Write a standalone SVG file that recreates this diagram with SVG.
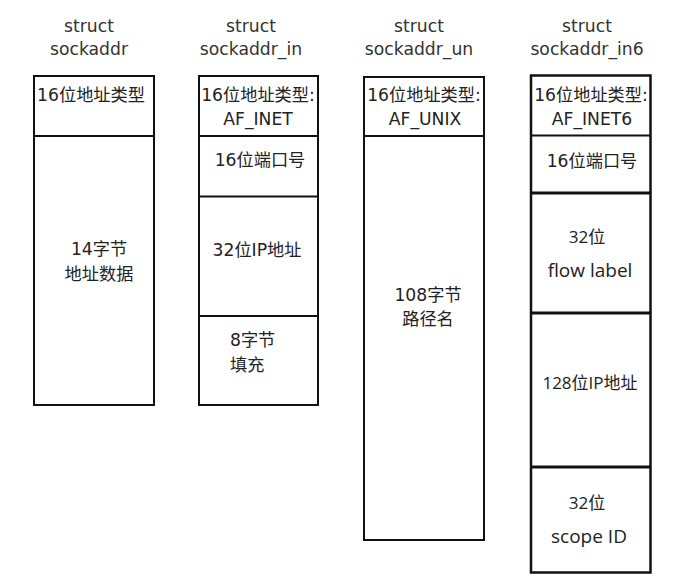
<svg xmlns="http://www.w3.org/2000/svg" width="676" height="581" viewBox="0 0 676 581">
<style>
.box{fill:#fff;stroke:#111;stroke-width:2}
.div{stroke:#111;stroke-width:2}
.div3{stroke:#111;stroke-width:3}
.t{font-family:"DejaVu Sans","Noto Sans CJK SC",sans-serif;font-size:17.2px;fill:#333}
.c{font-family:"DejaVu Sans","Noto Sans CJK SC",sans-serif;font-size:17.2px;fill:#222}
.o{font-family:"Open Sans","Noto Sans CJK SC",sans-serif;font-size:17px;fill:#222}
.o2{font-family:"Open Sans","Noto Sans CJK SC",sans-serif;font-size:19px;fill:#222}
.m{text-anchor:middle}
</style>
<rect width="676" height="581" fill="#fff"/>
<g id="sockaddr">
<text class="t m" x="89" y="32">struct</text>
<text class="t m" x="89" y="55">sockaddr</text>
<rect class="box" x="34" y="76" width="120" height="329"/>
<line class="div" x1="34" y1="136" x2="154" y2="136"/>
<text class="c m" x="91" y="101">16位地址类型</text>
<text class="c m" x="99" y="255">14字节</text>
<text class="c m" x="99" y="280">地址数据</text>
</g>
<g id="sockaddr_in">
<text class="t m" x="251" y="32">struct</text>
<text class="t m" x="251" y="55">sockaddr_in</text>
<rect class="box" x="199" y="76" width="119" height="329"/>
<line class="div" x1="199" y1="136" x2="318" y2="136"/>
<line class="div" x1="199" y1="196.5" x2="318" y2="196.5"/>
<line class="div" x1="199" y1="316" x2="318" y2="316"/>
<text class="c m" x="258" y="101">16位地址类型:</text>
<text class="c m" x="258" y="125">AF_INET</text>
<text class="c m" x="260" y="166">16位端口号</text>
<text class="c m" x="257" y="256">32位IP地址</text>
<text class="c" x="230" y="346">8字节</text>
<text class="c" x="230" y="371">填充</text>
</g>
<g id="sockaddr_un">
<text class="t m" x="419" y="32">struct</text>
<text class="t m" x="419" y="55">sockaddr_un</text>
<rect class="box" x="364" y="77" width="120" height="463"/>
<line class="div" x1="364" y1="136" x2="484" y2="136"/>
<text class="c m" x="424" y="101">16位地址类型:</text>
<text class="c m" x="425" y="125">AF_UNIX</text>
<text class="c m" x="428" y="301">108字节</text>
<text class="c m" x="428" y="325">路径名</text>
</g>
<g id="sockaddr_in6">
<text class="t m" x="587" y="32">struct</text>
<text class="t m" x="587" y="55">sockaddr_in6</text>
<rect class="box" x="531" y="75.5" width="119.5" height="497" style="stroke-width:2.5"/>
<line class="div" x1="531" y1="135.5" x2="650.5" y2="135.5"/>
<line class="div3" x1="531" y1="193" x2="650.5" y2="193"/>
<line class="div3" x1="531" y1="313" x2="650.5" y2="313"/>
<line class="div3" x1="531" y1="467" x2="650.5" y2="467"/>
<text class="c m" x="591" y="101">16位地址类型:</text>
<text class="c m" x="592" y="125">AF_INET6</text>
<text class="c m" x="592" y="166.5">16位端口号</text>
<text class="o m" x="587" y="243">32位</text>
<text class="o2 m" x="590" y="277">flow label</text>
<text class="o m" x="590" y="389">128位IP地址</text>
<text class="o m" x="587" y="509">32位</text>
<text class="o2 m" x="589" y="543">scope ID</text>
</g>
<g id="connectors"/>
</svg>
